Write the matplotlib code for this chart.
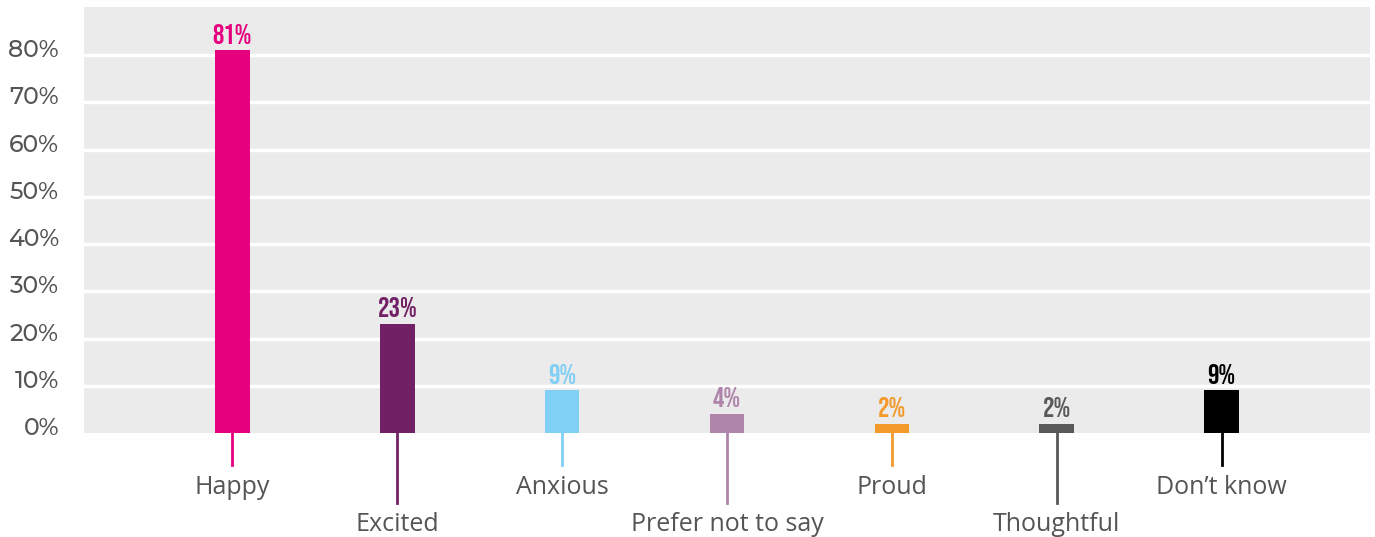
import numpy as np
import matplotlib.pyplot as plt
import matplotlib.transforms as mtransforms

categories = ['Happy', 'Excited', 'Anxious', 'Prefer not to say', 'Proud', 'Thoughtful', 'Don\u2019t know']
values = [81, 23, 9, 4, 2, 2, 9]
colors = ['#E6007E', '#722066', '#80CFF5', '#B085AB', '#F39A2B', '#595959', '#000000']
yticks = [0, 10, 20, 30, 40, 50, 60, 70, 80]

TICK_FONT = ['Montserrat Alternates', 'Open Sans', 'DejaVu Sans']
LABEL_FONT = ['Open Sans', 'DejaVu Sans']
VALUE_FONT = ['Bebas Neue', 'Oswald', 'DejaVu Sans']

x = np.arange(len(categories))

fig = plt.figure(figsize=(13.75, 5.37), dpi=100)
ax = fig.add_axes([84 / 1375, 1 - 433 / 537, (1370 - 84) / 1375, (433 - 7) / 537])
ax.set_facecolor('#EBEBEB')

ax.bar(x, values, width=0.21, color=colors, zorder=3)
ax.set_xlim(-0.9, 6.9)
ax.set_ylim(0, 90.2)

# white gridlines
for t in yticks[1:]:
    ax.axhline(t, color='white', lw=2.5, zorder=1)

ax.set_yticks(yticks)
ax.set_yticklabels([f'{t}%' for t in yticks], fontsize=17, fontweight=500,
                   color='#555555', family=TICK_FONT)
ax.tick_params(axis='y', length=0, pad=18)
# tick labels sit a little above their gridline in the original
shift = mtransforms.ScaledTranslation(0, 5 / 72, fig.dpi_scale_trans)
for lab in ax.get_yticklabels():
    lab.set_transform(lab.get_transform() + shift)
ax.set_xticks([])
for s in ax.spines.values():
    s.set_visible(False)

# value labels
for xi, v, c in zip(x, values, colors):
    ax.annotate(f'{v}%', (xi, v), xytext=(0, 5), textcoords='offset points',
                ha='center', va='bottom', fontsize=20.5, color=c,
                family=VALUE_FONT, zorder=4)

# leader lines and category labels, alternating rows
trans = mtransforms.blended_transform_factory(ax.transData, ax.transAxes)
for i, (xi, name, c) in enumerate(zip(x, categories, colors)):
    low = i % 2 == 1
    y_end = -0.164 if low else -0.075
    y_lab = -0.214 if low else -0.127
    ax.plot([xi, xi], [0, y_end], color=c, lw=2, transform=trans, clip_on=False)
    ax.text(xi, y_lab, name, transform=trans, ha='center', va='center',
            fontsize=18, color='#555555', family=LABEL_FONT)

plt.savefig('out.png', dpi=100)
